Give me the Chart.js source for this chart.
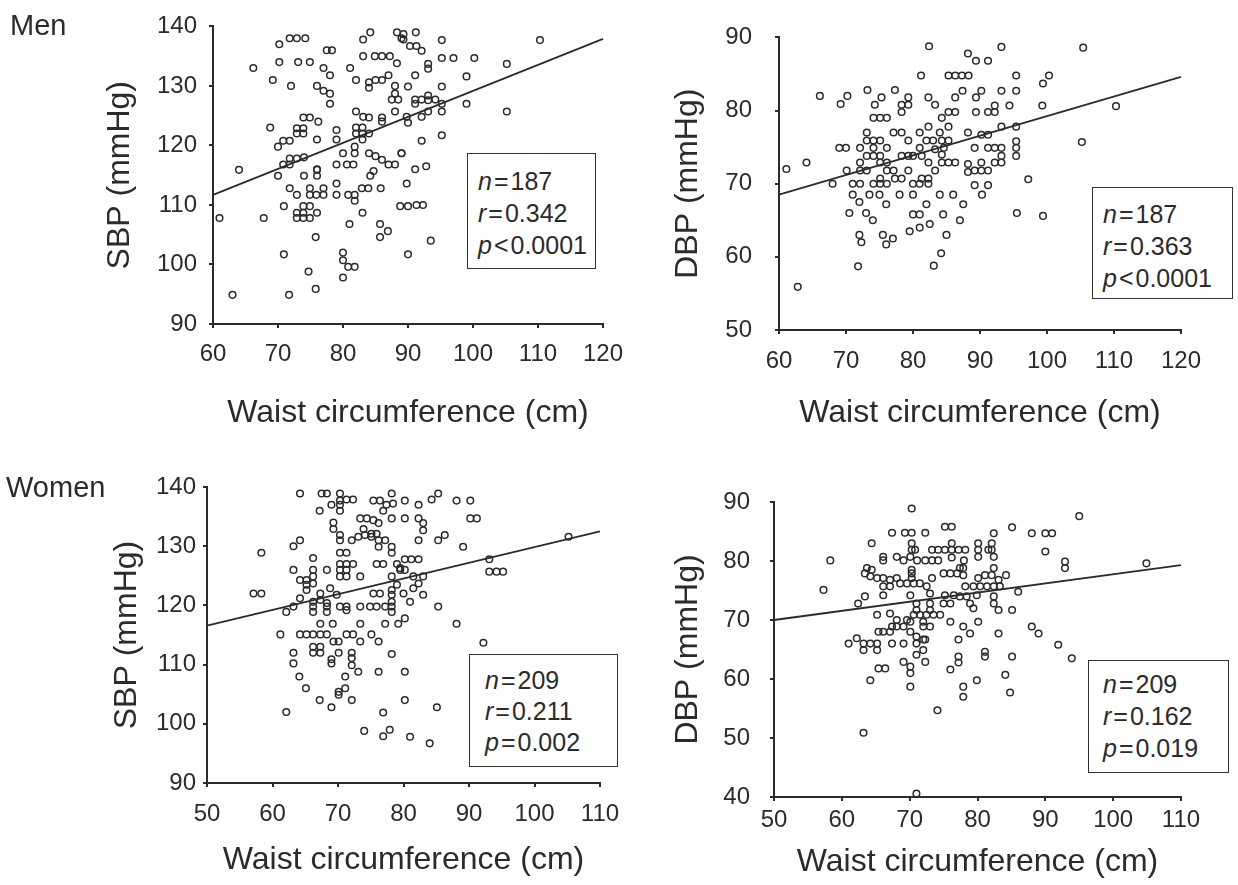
<!DOCTYPE html>
<html>
<head>
<meta charset="utf-8">
<script src="https://cdn.jsdelivr.net/npm/chart.js@4.4.1/dist/chart.umd.min.js"></script>
<style>
  body { margin: 0; background: #fff; }
  #page { position: relative; width: 1238px; height: 885px; overflow: hidden; }
  canvas { position: absolute; left: 0; top: 0; }
  .lbl { position: absolute; font-family: "Liberation Sans", Arial, sans-serif; color: #2b2b2b; }
  .group { font-size: 29px; }
  .stat { border: 1.5px solid #333; box-sizing: border-box; font-size: 25px; line-height: 32px; background: #fff; }
  .stat span { margin: 0 2px; }
</style>
</head>
<body>
<div id="page">
  <canvas id="c1" width="1238" height="885"></canvas>
  <canvas id="c2" width="1238" height="885"></canvas>
  <canvas id="c3" width="1238" height="885"></canvas>
  <canvas id="c4" width="1238" height="885"></canvas>

  <div class="lbl group" style="left:10px;top:9px;">Men</div>
  <div class="lbl group" style="left:6px;top:471px;">Women</div>

  <div class="lbl stat" style="left:467px;top:153px;width:129px;height:116px;padding:11px 0 0 10px;">
    <i>n</i><span>=</span>187<br><i>r</i><span>=</span>0.342<br><i>p</i><span>&lt;</span>0.0001
  </div>
  <div class="lbl stat" style="left:1092px;top:187px;width:141px;height:112px;padding:10px 0 0 10px;">
    <i>n</i><span>=</span>187<br><i>r</i><span>=</span>0.363<br><i>p</i><span>&lt;</span>0.0001
  </div>
  <div class="lbl stat" style="left:469px;top:654px;width:149px;height:113px;padding:10px 0 0 15px;line-height:31px;">
    <i>n</i><span>=</span>209<br><i>r</i><span>=</span>0.211<br><i>p</i><span>=</span>0.002
  </div>
  <div class="lbl stat" style="left:1088px;top:660px;width:141px;height:113px;padding:7px 0 0 14px;">
    <i>n</i><span>=</span>209<br><i>r</i><span>=</span>0.162<br><i>p</i><span>=</span>0.019
  </div>
</div>
<script>
// waist (cm), blood pressure (mmHg) pairs
const menSBP = [
  [70.2,137],[71.8,138],[72.9,138],[74.2,138],[66.2,133],[70.2,134],[73.1,134],[74.9,134],[77.5,136],[78.3,136],
  [77,133],[78,131.8],[81.1,133],[83.1,137.8],[84.2,139],[83.1,135],[84.9,135],[86,135],[87.2,135],[88.3,133.8],
  [88.3,139],[89,138],[69.2,131],[72,130],[76,130],[77,129.2],[78,128.7],[78,127],[82,131],[84,130.6],
  [85,131],[86,131],[87,131.8],[84,129.7],[88,130],[88,128.7],[87.5,127.7],[88.5,127.7],[68.8,123],[73.9,124.7],
  [74.9,124.7],[76.2,124],[72.9,122.9],[73.9,122.9],[72.9,122],[73.9,122],[71.8,120.8],[70.8,120.8],[70,119.8],[76,121],
  [79,122.6],[79,121],[82,125.7],[83.1,124.8],[84,124.7],[86,124.7],[86,124],[82,123],[83,123],[82,122],
  [83,122],[83,121],[84,122],[88,125.7],[89.8,124.8],[71.8,117.8],[70.8,116.8],[71.8,116.8],[72.9,117.8],[74,118],
  [76,116],[79,116.8],[80.6,116.8],[81.6,116.8],[80,118.7],[81.8,119.8],[81.8,118.7],[84,118.7],[85,118.2],[86,117.6],
  [87,116.8],[88,116.8],[89,118.7],[64,115.9],[70,114.9],[74,114.9],[76,115.9],[76,114.9],[84.2,114.9],[84.7,115.7],
  [71.8,112.8],[72.9,111.7],[74.9,112.8],[74.9,111.7],[75.9,111.7],[77,112.8],[77,111.7],[79,113.6],[79,111.7],[80.8,111.7],
  [81.8,111.7],[81.8,110.7],[82.9,112.8],[83.9,112.8],[85.8,112.8],[89.8,113.6],[61,107.8],[67.8,107.8],[70.9,109.8],[72.9,108.7],
  [73.9,108.7],[74.9,107.8],[73.9,107.8],[72.9,107.8],[73.9,109.8],[74.9,109.8],[76,108.7],[83,108.7],[81,106.8],[85.7,106.8],
  [85.7,104.6],[86.9,105.6],[88.8,109.8],[90,109.8],[75.8,104.6],[70.9,101.7],[90,101.7],[80,102],[80,100.7],[80.8,99.6],
  [81.8,99.6],[74.7,98.8],[80,97.8],[63,94.9],[71.7,94.9],[75.8,95.9],[89.3,138.7],[89.3,137.8],[91.2,139],[90.3,136.7],
  [91.3,136.7],[92.1,135.9],[95.2,137.7],[110.3,137.7],[95.2,134.7],[97,134.7],[100.2,134.7],[105.2,133.7],[93.1,133.7],[93.1,132.9],
  [91.1,131.8],[99,131.6],[90,129.9],[95.2,129.9],[91.1,127.7],[92.1,127.7],[93.1,128.4],[93.1,127.6],[94.2,127.7],[91.1,127],
  [95.2,127],[95.2,125.7],[99,127],[105.2,125.7],[90,123.8],[92.1,124.8],[93.1,125.7],[92.1,120.8],[95.2,121.7],[89,118.7],
  [91.1,116],[91.3,110],[92.3,110],[93.5,104],[92.8,116.5]
];
const menDBP = [
  [82.4,88.8],[88.2,87.8],[81.2,84.8],[85.3,84.8],[86.3,84.8],[87.3,84.8],[88.3,84.8],[87.4,82.7],[86.3,81.8],[66.1,82],
  [69.2,80.9],[70.2,82],[73.2,82.8],[75.3,81.8],[74.3,80.8],[77.3,82.8],[78.3,80.8],[79.3,80.8],[78.3,79.8],[79.3,81.8],
  [82.3,81.8],[83.3,80.8],[74.1,79],[75.1,79],[76.1,79],[84.3,79],[85.3,79.8],[86.3,79.8],[82.3,77.8],[85.3,77.8],
  [73.1,77],[73.1,75.9],[74.1,75.9],[75.1,75.9],[76.1,74.9],[77.1,77],[78.3,77],[79.3,75.9],[81,77],[82,75.9],
  [83,75.9],[84,77],[84.3,75.9],[84.6,74.9],[85.3,75.9],[88.2,77],[69,74.9],[70,74.9],[72.1,74.9],[74.1,74.9],
  [73.1,73.8],[74.1,73.8],[75.1,73.8],[76.1,72.9],[75.1,72.9],[72.1,72.9],[78.3,73.8],[79.3,73.8],[81,74.9],[80,73.8],
  [81.3,73.8],[82.3,72.9],[84.3,72.9],[85.3,72.9],[86.3,72.9],[88.2,72.7],[88.2,71.6],[84.3,74],[83.3,74.7],[64.1,72.9],
  [61.1,72],[70.1,71.8],[72.1,71.8],[73.1,71.8],[76.1,71.8],[77.1,71.8],[77.3,70.7],[78.3,70.7],[79.3,71.8],[81.3,70.7],
  [82.3,70.7],[81,70],[83.3,71.8],[68,70],[71,70],[72.1,70],[74.1,70],[75.1,70.7],[75.1,70],[76.1,70],
  [80,70],[82.3,70],[93.2,88.7],[105.4,88.6],[89.4,86.8],[91.2,86.8],[95.4,84.8],[100.3,84.8],[99.4,83.7],[89.4,81.8],
  [90.2,82.7],[93.2,82.7],[95.4,82.7],[99.3,80.7],[110.3,80.6],[89.4,79.8],[91.2,79.8],[92.2,79.8],[92.2,80.7],[94.4,80.7],
  [93.2,77.8],[95.4,77.8],[90.2,76.7],[91.2,76.7],[89.2,74.9],[91.2,74.9],[92.2,74.9],[93.2,74.9],[93.2,73.8],[92.2,72.9],
  [93.2,72.9],[95.4,75.8],[95.4,74.9],[95.4,73.8],[89.2,71.8],[90.2,72.9],[90.2,71.8],[91.2,71.8],[105.2,75.7],[97.2,70.6],
  [89.2,69.8],[91.2,69.8],[62.8,55.9],[71.8,58.7],[83.1,58.8],[84.2,60.5],[99.4,65.6],[71,68.5],[72,67.5],[73.5,68.5],
  [75,68.5],[76,67.2],[78,68.5],[80,68.5],[82,67.2],[84,68.5],[86,68.5],[87.5,67.2],[90.3,68.5],[70.5,66],
  [73,66],[74,65],[80,65.8],[81,65.8],[84.5,65.8],[87,65],[95.5,66],[72,63],[72.3,62],[75.5,63],
  [77,62.5],[81,64],[82.5,64.5],[85,63],[79.5,63.5],[76,61.7]
];
const womenSBP = [
  [64.2,138.9],[67.5,138.9],[68.3,138.9],[70.3,138.9],[78.2,138.9],[85.3,138.9],[84.3,137.9],[70.3,137.7],[71.3,137.9],[72.3,137.9],
  [75.4,137.7],[76.4,137.7],[80.2,137.7],[82.3,137],[88.1,137.7],[90.2,137.7],[69,137],[70.3,137],[77.4,137],[78.4,137.2],
  [67.2,136],[70.3,136],[76.9,136],[73.4,134.7],[74.4,134.7],[75.4,134.4],[76.2,133.9],[78.2,134.7],[80.2,134.7],[82.3,134.7],
  [83,133.9],[90.2,134.7],[91.2,134.7],[69.3,134],[69.3,132.9],[83,132.7],[73.9,132.9],[75.1,132.1],[75.9,132.1],[70.3,131.9],
  [70.3,131],[72.1,131],[73.1,131.6],[74.1,131.9],[75.1,131.6],[76.2,131],[77.2,131],[82.3,131],[85.3,131],[86.3,131.9],
  [64.2,131],[63.2,130],[76.2,129.9],[78.2,129.9],[89.1,129.9],[58.3,128.9],[70.3,128.9],[71.3,128.9],[78.2,128.9],[66.2,128],
  [80.2,127.8],[81.2,127.8],[82.3,127.8],[93.1,127.8],[70.3,127],[71.3,127],[72.3,127],[75.9,127],[76.9,127],[79,127],
  [79.5,126.3],[63.2,126],[66.2,126],[68.3,126],[70.3,126],[71.3,126],[79.5,126],[80.2,126],[93.1,125.7],[94.2,125.7],
  [95.2,125.7],[66.2,124.9],[70.3,124.9],[71.3,124.9],[73.4,124.9],[78.2,124.9],[81.5,124.9],[83,124.9],[64.2,124.3],[65.2,124.3],
  [65.2,123.5],[66.2,123.7],[79,123.5],[82.3,123.7],[57.1,122],[58.3,122],[65.2,122.6],[67.3,122],[68.8,122.9],[69.8,121.8],
  [75.4,122],[76.4,122],[78.2,122.6],[78.2,121.8],[80,122],[81.5,122.9],[83,121.8],[64.2,121.2],[66.2,120.6],[67.3,120.9],
  [68.3,120.4],[78.2,120.6],[81,120.6],[63.2,119.8],[66.2,119.8],[68.3,119.8],[70.3,119.8],[71.3,119.8],[73.4,119.8],[74.9,119.8],
  [75.9,119.8],[77.2,119.8],[78.2,119.8],[85.3,119.8],[62.1,118.9],[66.2,118.9],[68.3,118.9],[71.3,119.2],[78.2,118.9],[80.2,117.8],
  [67.3,116.9],[69.2,116.9],[73.4,116.9],[77.2,116.9],[79.2,116.9],[88.1,116.9],[61.2,115.1],[64.2,115.1],[65.2,115.1],[66.2,115.1],
  [67.3,115.1],[68.3,115.1],[71.3,115.1],[72.3,115.1],[75.1,115.1],[69.3,113.9],[70.1,113.9],[73.4,113.9],[76.2,113.9],[92.2,113.7],
  [66.2,113],[66.2,112],[67.3,113],[67.3,112],[63.2,112],[70.1,112],[72.1,112],[72.1,111.1],[78.2,111.8],[69,110.9],
  [69,110.2],[63.2,110.2],[72.1,109.9],[73.1,108.8],[76.2,108.8],[80.2,108.8],[64.1,108],[71.1,108],[65.1,106],[71.1,106],
  [70.1,105.4],[67.2,104],[72.1,104],[70.1,104.9],[80.2,104],[69,102.8],[85.1,102.8],[62.1,102],[76.9,101.9],[74,98.8],
  [76.9,97.9],[77.9,99],[81,97.8],[84,96.7],[105.2,131.6]
];
const womenDBP = [
  [70.3,88.9],[95,87.6],[75.2,85.8],[76.2,85.8],[85.1,85.7],[67.4,84.8],[69.3,84.8],[70.3,84.8],[72.3,84.8],[82.4,84.7],
  [88,84.7],[90,84.7],[91,84.7],[64.4,83],[70.3,83],[76.2,83],[80.1,83],[82.1,83],[70.3,81.9],[70.8,81.9],
  [73.3,81.9],[74.2,81.9],[75.2,81.9],[76.2,81.9],[77.2,81.9],[78.2,81.9],[80.1,81.9],[81.6,81.9],[82.1,81.9],[90,81.6],
  [66.1,80.7],[66.1,80.1],[68.1,80.7],[69.1,80.1],[70.1,80.7],[71.1,80.1],[72.3,80.1],[73.3,80.1],[74.2,80.1],[76.2,80.6],
  [78,80.1],[80.1,80.7],[82.4,80.7],[58.3,80.1],[92.9,79.9],[92.9,78.8],[104.9,79.6],[63.7,78.8],[64.4,78.5],[70.3,78.5],
  [77.4,78.8],[77.9,78.8],[82.4,78.8],[63.4,77.9],[64.2,77.4],[65.2,77.1],[66.1,77.1],[67.1,76.8],[68.1,77.1],[70.3,77.9],
  [70.3,77.1],[73.3,77.1],[75,77.9],[76,77.9],[77,77.9],[77.9,77.6],[80.1,77.1],[81.1,77.6],[82.1,77.6],[83.1,76.8],
  [84.2,77.6],[57.3,75.1],[66.1,75.7],[67.1,75.7],[68.6,76.2],[69.6,76.2],[70.6,76.2],[71.5,76.2],[72.5,75.7],[78.2,75.7],
  [79.4,75.7],[80.4,75.7],[81.4,75.7],[82.4,75.7],[83.3,75.7],[86,74.8],[62.4,72.8],[63.4,74],[66.1,74.2],[70.1,74.2],
  [73,74.5],[75.2,74.2],[76.5,74.2],[77.4,74],[78.4,74],[79.9,74.2],[82.4,74],[71,72.8],[71,71.7],[73,72.8],
  [73,71.7],[75,72.8],[76,72.8],[78.9,72.8],[82.4,72.8],[83.1,71.7],[85.1,71.7],[65.2,70.9],[67.1,71.1],[68.1,70],
  [69.6,70],[70.6,70.9],[71.5,70.9],[72.5,70.9],[73.5,70.9],[74.5,70.9],[79.4,72],[67.4,68.9],[68.1,68.9],[69.1,68.9],
  [70.1,69.7],[72,69.7],[72,68.9],[73,68.9],[76,69.7],[77.9,68.9],[78.9,67.7],[80.1,69.7],[88,68.9],[89,67.7],
  [65.4,68],[66.1,68],[67.1,68],[70.1,68],[71,67.2],[72,66.7],[77.2,66.7],[83.1,67.7],[61,66],[62.2,66.9],
  [63.2,66],[64.2,66],[65.2,66],[63.2,64.9],[65.2,64.9],[67.4,66],[69.1,66],[71,66],[72.3,66.7],[91.9,65.8],
  [93.9,63.5],[71,64.1],[72,64.9],[72.3,62.9],[69.1,62.9],[70.1,62.1],[70.1,61],[81.1,64.6],[81.1,63.8],[77.2,63.8],
  [77.2,62.8],[76,61.6],[85.1,63.8],[84.1,60.7],[65.4,61.8],[66.4,61.8],[64.2,59.8],[70.1,58.7],[77.9,58.7],[77.9,57],
  [79.9,59.8],[84.8,57.7],[74.1,54.7],[63.2,50.9],[71,40.6]
];

// fitted regression lines, ends at the axis limits
const menSBPLine = [[60,111.7],[120,137.9]];
const menDBPLine = [[60,68.5],[120,84.6]];
const womenSBPLine = [[50,116.6],[110,132.5]];
const womenDBPLine = [[50,70],[110,79.3]];

const xTitle = 'Waist circumference (cm)';
const ink = '#2b2b2b';
const FONT = '"Liberation Sans", Arial, sans-serif';

function toXY(pairs) {
  return pairs.map(p => ({x: p[0], y: p[1]}));
}

// box: chart area edges in page pixels
function makePanel(id, pts, line, yTitle, box) {
  new Chart(document.getElementById(id), {
    type: 'scatter',
    data: {
      datasets: [
        {
          data: toXY(pts),
          pointStyle: 'circle',
          pointRadius: 3.3,
          pointBorderWidth: 1.5,
          borderColor: ink,
          backgroundColor: 'rgba(0,0,0,0)',
          clip: false
        },
        {
          data: toXY(line),
          showLine: true,
          pointRadius: 0,
          borderColor: ink,
          borderWidth: 1.8,
          clip: false
        }
      ]
    },
    options: {
      responsive: false,
      animation: false,
      events: [],
      layout: {
        padding: {
          left: box.left - box.yW,
          top: box.top,
          right: 1238 - box.right,
          bottom: 885 - box.bottom - box.xH
        }
      },
      plugins: { legend: { display: false }, tooltip: { enabled: false } },
      scales: {
        x: {
          type: 'linear',
          min: box.xMin, max: box.xMax,
          afterFit: s => { s.height = box.xH; },
          border: { display: true, color: ink, width: 2 },
          grid: { drawOnChartArea: false, drawTicks: true, tickLength: 4, color: ink, lineWidth: 2 },
          ticks: { stepSize: 10, maxRotation: 0, autoSkip: false, padding: box.xPad, color: ink,
                   font: { family: FONT, size: 24 } },
          title: { display: true, text: xTitle, color: ink, padding: 0,
                   font: { family: FONT, size: 32, lineHeight: 1.2 } }
        },
        y: {
          type: 'linear',
          min: box.yMin, max: box.yMax,
          afterFit: s => { s.width = box.yW; },
          border: { display: true, color: ink, width: 2 },
          grid: { drawOnChartArea: false, drawTicks: true, tickLength: 4, color: ink, lineWidth: 2 },
          ticks: { stepSize: 10, padding: box.yPad, color: ink, font: { family: FONT, size: 24 } },
          title: { display: true, text: yTitle, color: ink, padding: 0,
                   font: { family: FONT, size: 32, lineHeight: 1.2 } }
        }
      }
    }
  });
}

makePanel('c1', menSBP, menSBPLine, 'SBP (mmHg)',
  {left: 213, top: 22, right: 603, bottom: 324, yW: 112, xH: 108, xPad: 12, yPad: 12,
   xMin: 60, xMax: 120, yMin: 90, yMax: 140});
makePanel('c2', menDBP, menDBPLine, 'DBP (mmHg)',
  {left: 779, top: 27, right: 1181, bottom: 330, yW: 110, xH: 102, xPad: 13, yPad: 23,
   xMin: 60, xMax: 120, yMin: 50, yMax: 90});
makePanel('c3', womenSBP, womenSBPLine, 'SBP (mmHg)',
  {left: 207, top: 487, right: 600, bottom: 783, yW: 99, xH: 96, xPad: 13, yPad: 7,
   xMin: 50, xMax: 110, yMin: 90, yMax: 140});
makePanel('c4', womenDBP, womenDBPLine, 'DBP (mmHg)',
  {left: 774, top: 502, right: 1181, bottom: 797, yW: 105, xH: 84, xPad: 5, yPad: 20,
   xMin: 50, xMax: 110, yMin: 40, yMax: 90});
</script>
</body>
</html>
